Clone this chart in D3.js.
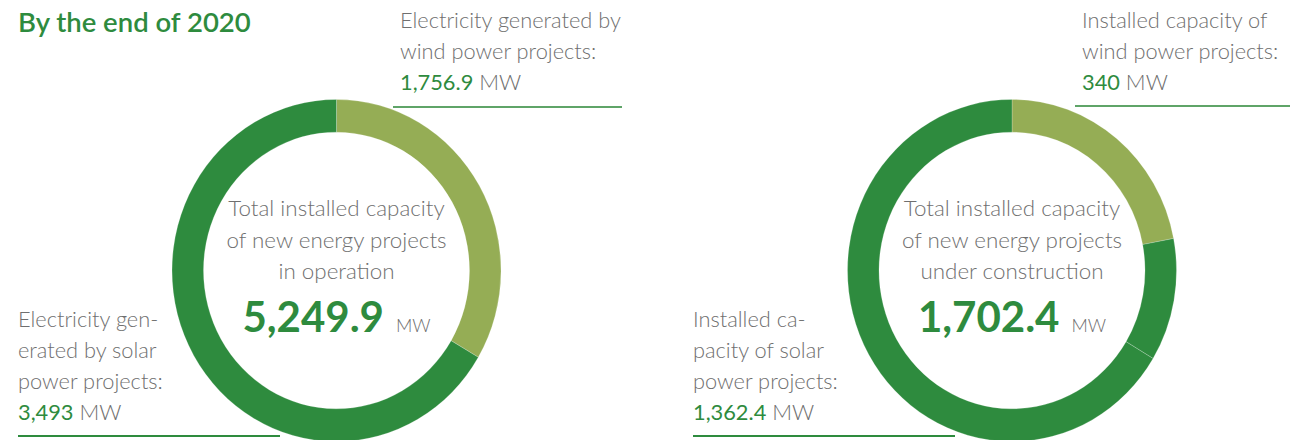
<!DOCTYPE html>
<html>
<head>
<meta charset="utf-8">
<script src="https://cdn.jsdelivr.net/npm/d3@7"></script>
<style>
  body { margin: 0; background: #fff; }
  svg { display: block; }
  .gray { fill: #6f6f6f; font-family: Lato, "Open Sans", sans-serif; font-weight: 300; }
  .green { fill: #2e8b3e; }
</style>
</head>
<body>
<script>
// title
var title = "By the end of 2020";

// left donut: projects in operation (MW)
var leftNames = ["Wind power", "Solar power"];
var leftValues = [1756.9, 3493];
var leftTotal = "5,249.9";
var leftCenter = ["Total installed capacity", "of new energy projects", "in operation"];

// right donut: projects under construction, ring shares (%)
var rightNames = ["Wind power", "Other", "Solar power"];
var rightShares = [22.0, 11.6, 66.4];
var rightTotal = "1,702.4";
var rightCenter = ["Total installed capacity", "of new energy projects", "under construction"];

// callout labels
var leftTopLines = ["Electricity generated by", "wind power projects:"];
var leftTopValue = "1,756.9";
var leftBottomLines = ["Electricity gen-", "erated by solar", "power projects:"];
var leftBottomValue = "3,493";
var rightTopLines = ["Installed capacity of", "wind power projects:"];
var rightTopValue = "340";
var rightBottomLines = ["Installed ca-", "pacity of solar", "power projects:"];
var rightBottomValue = "1,362.4";
var unit = "MW";

var colors = { wind: "#95ad55", solar: "#2e8b3e" };

var w = 1290, h = 440;
var svg = d3.select("body").append("svg").attr("width", w).attr("height", h);

svg.append("text")
  .attr("x", 18).attr("y", 32)
  .attr("class", "green")
  .style("font-family", "Lato, sans-serif")
  .style("font-weight", 600)
  .style("font-size", "27.5px")
  .text(title);

var pie = d3.pie().sort(null).value(function(d) { return d; });
var arc = d3.arc().innerRadius(133).outerRadius(164.5);

function donut(cx, cy, values, fills, centerLines, total) {
  var g = svg.append("g")
    .attr("transform", "translate(" + cx + "," + cy + ") scale(1,1.04)");
  g.selectAll("path")
    .data(pie(values))
    .enter().append("path")
    .attr("d", arc)
    .attr("fill", function(d, i) { return fills[i]; })
    .attr("stroke", "rgba(255,255,255,0.35)")
    .attr("stroke-width", 0.6);

  var t = svg.append("g").attr("transform", "translate(" + cx + ",0)");
  t.selectAll("text.c")
    .data(centerLines)
    .enter().append("text")
    .attr("class", "gray c")
    .attr("x", 0)
    .attr("y", function(d, i) { return 216 + i * 31.5; })
    .attr("text-anchor", "middle")
    .style("font-size", "22.4px")
    .text(function(d) { return d; });

  var big = t.append("text")
    .attr("x", 0).attr("y", 332)
    .attr("text-anchor", "middle");
  big.append("tspan")
    .attr("class", "green")
    .style("font-family", "Lato, sans-serif")
    .style("font-weight", 700)
    .style("font-size", "42px")
    .text(total);
  big.append("tspan")
    .attr("class", "gray")
    .attr("dx", 12)
    .style("font-size", "18px")
    .text(unit);
}

donut(336.5, 270.5, leftValues, [colors.wind, colors.solar], leftCenter, leftTotal);
donut(1012, 270.5, rightShares, [colors.wind, colors.solar, colors.solar], rightCenter, rightTotal);

function callout(x, y0, lines, value, lineX1, lineX2, lineY, lineColor) {
  var g = svg.append("g");
  g.selectAll("text.l")
    .data(lines)
    .enter().append("text")
    .attr("class", "gray l")
    .attr("x", x)
    .attr("y", function(d, i) { return y0 + i * 31; })
    .style("font-size", "21.8px")
    .text(function(d) { return d; });
  var v = g.append("text")
    .attr("x", x)
    .attr("y", y0 + lines.length * 31)
    .style("font-size", "21.8px");
  v.append("tspan").attr("class", "green")
    .style("font-family", "Lato, sans-serif").style("font-weight", 400)
    .text(value);
  v.append("tspan").attr("class", "gray").text(" " + unit);
  g.append("line")
    .attr("x1", lineX1).attr("x2", lineX2)
    .attr("y1", lineY).attr("y2", lineY)
    .attr("stroke", lineColor)
    .attr("stroke-width", 2);
}

callout(400, 28, leftTopLines, leftTopValue, 393, 622, 107, "#5fa468");
callout(18, 327, leftBottomLines, leftBottomValue, 18, 280, 436, "#2e8b3e");
callout(1082, 28, rightTopLines, rightTopValue, 1075, 1290, 106, "#5fa468");
callout(693, 327, rightBottomLines, rightBottomValue, 693, 955, 436, "#2e8b3e");
</script>
</body>
</html>
